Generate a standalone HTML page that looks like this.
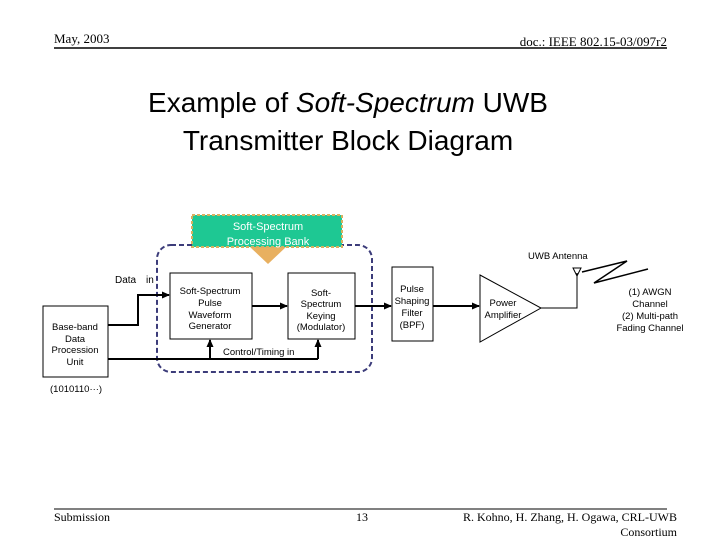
<!DOCTYPE html>
<html><head><style>
body{margin:0;background:#fff;}
svg text{font-family:"Liberation Sans",sans-serif;}
svg text.s{font-family:"Liberation Serif",serif;}
</style></head><body>
<svg width="720" height="540" viewBox="0 0 720 540" xmlns="http://www.w3.org/2000/svg">
<defs><marker id="a" markerUnits="userSpaceOnUse" markerWidth="8" markerHeight="8" refX="7" refY="4" orient="auto"><path d="M0,0.5 L8,4 L0,7.5 Z" fill="#000"/></marker></defs>
<text class="s" x="54" y="43" font-size="13">May, 2003</text>
<text class="s" x="667" y="46" font-size="13" text-anchor="end">doc.: IEEE 802.15-03/097r2</text>
<line x1="54" y1="48" x2="667" y2="48" stroke="#000" stroke-width="1.5"/>
<text x="348" y="112" font-size="28" text-anchor="middle">Example of <tspan font-style="italic">Soft-Spectrum</tspan> UWB</text>
<text x="348" y="150" font-size="28" text-anchor="middle">Transmitter Block Diagram</text>
<rect x="157" y="245" width="215" height="127" rx="14" fill="none" stroke="#3c3c7a" stroke-width="2" stroke-dasharray="5,3"/>
<path d="M250,247 L286,247 L268,264 Z" fill="#e8b060"/>
<rect x="192" y="215" width="150" height="32" fill="#1ec893" stroke="#d8b060" stroke-width="2" stroke-dasharray="3,2"/>
<text x="268" y="230" font-size="11" fill="#fff" text-anchor="middle">Soft-Spectrum</text>
<text x="268" y="245" font-size="11" fill="#fff" text-anchor="middle">Processing Bank</text>
<text x="115" y="283" font-size="10">Data</text><text x="146" y="283" font-size="10">in</text>
<rect x="43" y="306" width="65" height="71" fill="#fff" stroke="#000"/>
<g font-size="9.5" text-anchor="middle"><text x="75" y="330">Base-band</text><text x="75" y="342">Data</text><text x="75" y="353">Procession</text><text x="75" y="365">Unit</text></g>
<text x="50" y="392" font-size="9.5">(1010110···)</text>
<rect x="170" y="273" width="82" height="66" fill="#fff" stroke="#000"/>
<g font-size="9.5" text-anchor="middle"><text x="210" y="294">Soft-Spectrum</text><text x="210" y="306">Pulse</text><text x="210" y="318">Waveform</text><text x="210" y="329">Generator</text></g>
<rect x="288" y="273" width="67" height="66" fill="#fff" stroke="#000"/>
<g font-size="9.5" text-anchor="middle"><text x="321" y="296">Soft-</text><text x="321" y="307">Spectrum</text><text x="321" y="319">Keying</text><text x="321" y="330">(Modulator)</text></g>
<g stroke="#000" stroke-width="2" fill="none">
<path d="M108,325 H138 V295 H169" marker-end="url(#a)"/>
<path d="M108,359 H318"/>
<path d="M210,359 V340" marker-end="url(#a)"/>
<path d="M318,359 V340" marker-end="url(#a)"/>
<path d="M252,306 H287" marker-end="url(#a)"/>
<path d="M355,306 H391" marker-end="url(#a)"/>
<path d="M433,306 H479" marker-end="url(#a)"/>
</g>
<text x="223" y="355" font-size="9.5">Control/Timing in</text>
<rect x="392" y="267" width="41" height="74" fill="#fff" stroke="#000"/>
<g font-size="9.5" text-anchor="middle"><text x="412" y="292">Pulse</text><text x="412" y="304">Shaping</text><text x="412" y="316">Filter</text><text x="412" y="328">(BPF)</text></g>
<path d="M480,275 L541,308 L480,342 Z" fill="#fff" stroke="#000"/>
<g font-size="9.5" text-anchor="middle"><text x="503" y="306">Power</text><text x="503" y="318">Amplifier</text></g>
<path d="M541,308 H577 V273" stroke="#000" fill="none"/>
<path d="M573,268 L581,268 L577,276 Z" fill="none" stroke="#000"/>
<path d="M582,272 L627,261 L594,283 L648,269" stroke="#000" stroke-width="1.5" fill="none"/>
<text x="528" y="259" font-size="9.5">UWB Antenna</text>
<g font-size="9.5" text-anchor="middle"><text x="650" y="295">(1) AWGN</text><text x="650" y="307">Channel</text><text x="650" y="319">(2) Multi-path</text><text x="650" y="331">Fading Channel</text></g>
<line x1="54" y1="509" x2="667" y2="509" stroke="#000" stroke-width="1"/>
<g font-size="12"><text class="s" x="54" y="521">Submission</text><text class="s" x="356" y="521">13</text><text class="s" x="677" y="521" text-anchor="end">R. Kohno, H. Zhang, H. Ogawa, CRL-UWB</text><text class="s" x="677" y="536" text-anchor="end">Consortium</text></g>
</svg>
</body></html>
